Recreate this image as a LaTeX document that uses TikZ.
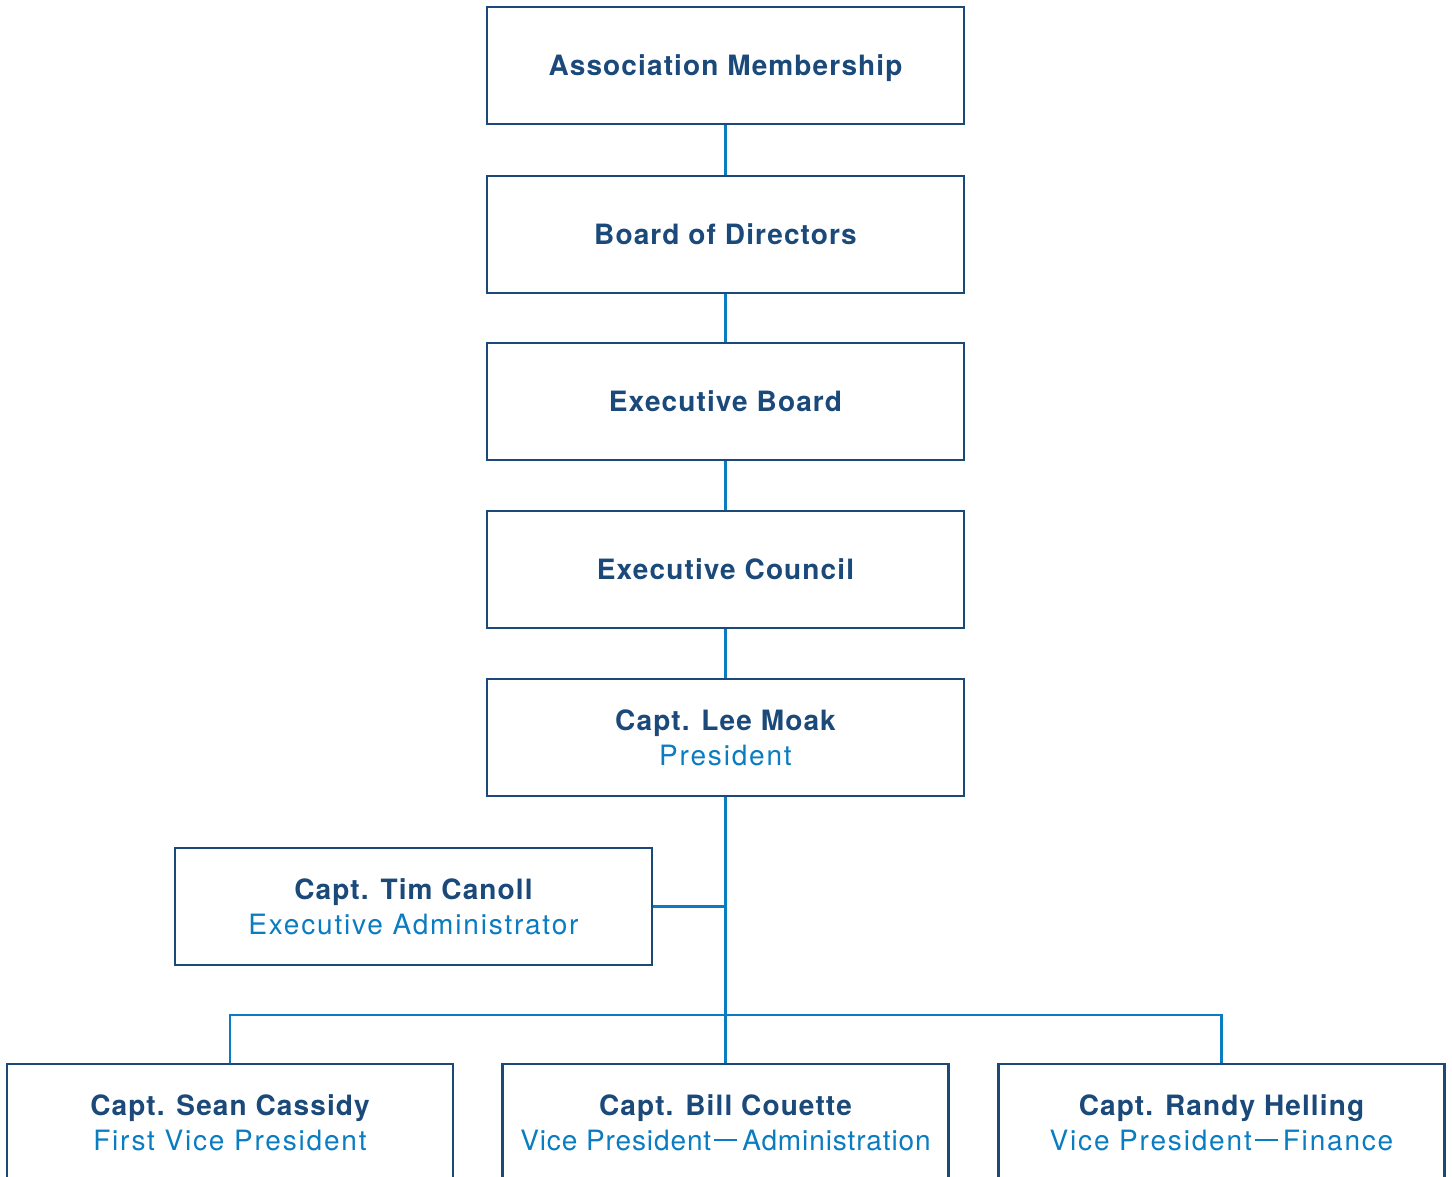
\documentclass[tikz,border=0pt]{standalone}
\usepackage{fontspec}
\setmainfont{TeX Gyre Heros}
\newfontfamily\ttlfont{TeX Gyre Heros}[LetterSpace=4]
\newfontfamily\subfont{TeX Gyre Heros}[LetterSpace=6.5]
\newfontfamily\subfontn{TeX Gyre Heros}[LetterSpace=3.2]
\definecolor{navy}{HTML}{1B4A7A}
\definecolor{sky}{HTML}{0A7CC1}
\newcommand{\vpdash}{\kern3pt\rule[9pt]{23pt}{2.2pt}\kern5pt}
\begin{document}
\begin{tikzpicture}[x=1pt,y=-1pt,
  box/.style={draw=navy,line width=2.7pt,minimum width=477pt,minimum height=117pt,inner sep=0pt,align=center,
    font=\fontsize{28}{35}\selectfont},
  one/.style={box,text height=20pt,text depth=0pt},
  bbox/.style={box,minimum width=446pt},
  link/.style={draw=sky,line width=2.1pt}]
\clip (0,0) rectangle (1452,1177);
\fill[white] (0,0) rectangle (1452,1177);
\newcommand{\ttl}[1]{\textcolor{navy}{\ttlfont\bfseries #1}}
\newcommand{\sub}[1]{\textcolor{sky}{\subfont #1}}
\newcommand{\subn}[1]{\textcolor{sky}{\subfontn #1}}
\node[one] (am) at (725.5,65.5) {\ttl{Association Membership}};
\node[one] (bd) at (725.5,234.5) {\ttl{Board of Directors}};
\node[one] (eb) at (725.5,401.5) {\ttl{Executive Board}};
\node[one] (ec) at (725.5,569.5) {\ttl{Executive Council}};
\node[box] (pr) at (725.5,737.5) {\ttl{Capt. Lee Moak}\\\sub{President}};
\node[box] (tc) at (413.5,906.5) {\ttl{Capt. Tim Canoll}\\\sub{Executive Administrator}};
\node[bbox] (sc) at (230,1122.5) {\ttl{Capt. Sean Cassidy}\\\sub{First Vice President}};
\node[bbox] (bc) at (725.5,1122.5) {\ttl{Capt. Bill Couette}\\\subn{Vice President\vpdash Administration}};
\node[bbox] (rh) at (1221.5,1122.5) {\ttl{Capt. Randy Helling}\\\sub{Vice President\vpdash Finance}};
\coordinate (bus) at (725.5,1015);
\draw[link] (am.south) -- (bd.north);
\draw[link] (bd.south) -- (eb.north);
\draw[link] (eb.south) -- (ec.north);
\draw[link] (ec.south) -- (pr.north);
\draw[link] (pr.south) -- (bc.north);
\draw[link] (tc.east) -- (tc.east -| pr.south);
\draw[link] (sc.north) |- (bus) -| (rh.north);
\end{tikzpicture}
\end{document}
